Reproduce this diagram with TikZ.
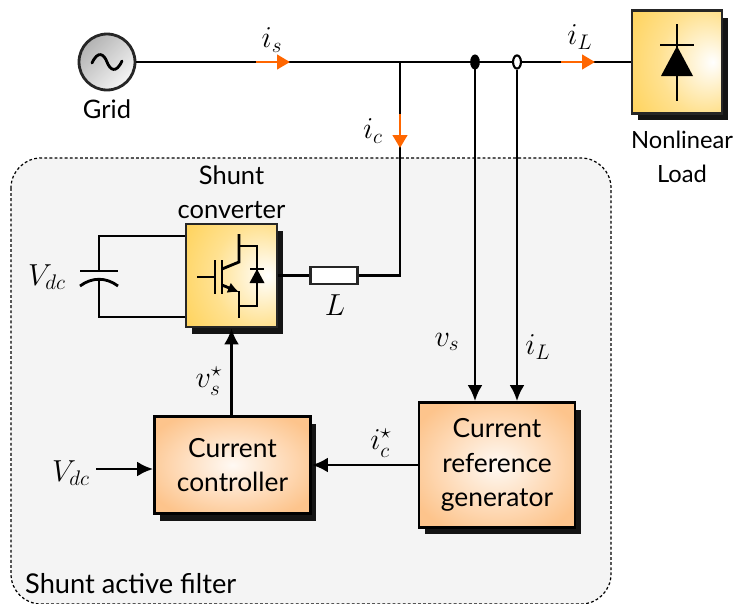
\documentclass[tikz,border=0pt]{standalone}
\usepackage{fontspec}
\setmainfont{Lato}
\usepackage{amsmath}
\usetikzlibrary{shapes,arrows.meta,positioning,calc,shadows}
\DeclareMathSizes{18.5}{18.5}{12.5}{10}
\definecolor{boxorange}{RGB}{253,196,140}
\definecolor{boxyellow}{RGB}{255,205,70}
\definecolor{currentorange}{RGB}{255,102,0}
\definecolor{filtergray}{RGB}{244,244,244}
\pgfdeclareradialshading{boxspot}{\pgfpoint{20bp}{0bp}}{color(0bp)=(white); color(25bp)=(boxyellow!60); color(52bp)=(boxyellow); color(100bp)=(boxyellow)}
\pgfdeclareradialshading{boxglow}{\pgfpoint{0bp}{0bp}}{color(0bp)=(white!90!boxorange); color(30bp)=(boxorange); color(100bp)=(boxorange)}
\tikzset{
    wire/.style={line width=1.6pt},
    sigarrow/.style={wire, -{Latex[length=3.2mm,width=3mm]}},
    currarrow/.style={line width=1.6pt, currentorange, -{Triangle[length=2.6mm,width=2.9mm]}},
    darkshadow/.style={drop shadow={shadow xshift=0.115cm, shadow yshift=-0.14cm, fill=black!92, opacity=1}},
    ctrlbox/.style={rectangle, draw, line width=1.6pt, darkshadow, shading=boxglow, align=center, font=\fontsize{15}{19.5}\selectfont},
    powerbox/.style={rectangle, draw=black!85, line width=1.6pt, darkshadow, shading=boxspot, align=center},
    txt/.style={align=center, font=\fontsize{14.5}{19.5}\selectfont},
    sym/.style={font=\fontsize{18.5}{22}\selectfont}
}
\begin{document}
\begin{tikzpicture}[x=0.02cm, y=-0.02cm]
\useasboundingbox (0,0) rectangle (737,603);
\draw[dash pattern=on 1.6pt off 1.3pt, line width=0.7pt, fill=filtergray, rounded corners=0.6cm] (11,158) rectangle (611,604);

% grid and load
\node[circle, draw=black!85, line width=1.6pt, minimum size=1.12cm, inner sep=0pt, left color=black!30, right color=black!4, shading angle=45] (grid) at (107,62) {};
\draw[line width=1.6pt, line cap=round] (92,63) .. controls (98,50) and (104,54) .. (107,62) .. controls (110,70) and (116,74) .. (122,61);
\node[txt, below=1pt of grid] (gridtxt) {Grid};
\node[powerbox, minimum width=1.8cm, minimum height=2.06cm] (load) at (677,62) {};
\node[txt, font=\fontsize{13.5}{19.5}\selectfont] (loadtxt) at (682,157) {Nonlinear\\Load};
\draw[wire] (677,24) -- (677,101);
\draw[wire] (660,45) -- (694,45);
\fill (677,46) -- (693,76) -- (661,76) -- cycle;

% converter
\node[powerbox, minimum width=1.82cm, minimum height=2.06cm] (conv) at (231.5,275.5) {};
\node[txt, above=-1.5pt of conv] (convtxt) {Shunt\\converter};
\draw[wire] (197,277) -- (215,277);
\draw[wire] (215,260) -- (215,294);
\draw[wire] (222,260) -- (222,294);
\draw[wire] (239,234) -- (239,262) -- (222,269);
\draw[wire, -{Latex[length=2.2mm,width=2.2mm]}] (222,285) -- (239,292);
\draw[wire] (239,291) -- (239,318);
\draw[wire] (239,246) -- (257,246) -- (257,306) -- (239,306);
\draw[wire] (250,269) -- (264,269);
\fill (257,269) -- (264.5,283) -- (249.5,283) -- cycle;

% inductor and capacitor
\node[rectangle, draw=black!85, line width=1.6pt, fill=white, minimum width=0.95cm, minimum height=0.34cm, inner sep=0pt] (ind) at (334,275.5) {};
\node[sym] (indtxt) at (335,305) {$L$};
\coordinate (captop) at (99,271);
\coordinate (capbot) at (99,279);
\draw[wire] (conv.west |- 0,236) -- (99,236) -- (captop);
\draw[wire] (conv.west |- 0,317) -- (99,317) -- (capbot);
\draw[wire] (80,271) -- (118,271);
\draw[wire] (80,286) .. controls (92,277) and (106,277) .. (118,286);
\node[sym] (vdctop) at (47,277) {$V_{dc}$};

% control blocks
\node[ctrlbox, minimum width=3.12cm, minimum height=1.94cm] (cc) at (232.5,465) {Current\\controller};
\node[ctrlbox, minimum width=3.12cm, minimum height=2.5cm] (crg) at (497,465) {Current\\reference\\generator};
\node[sym] (vdcin) at (71,473) {$V_{dc}$};

% main line
\coordinate (jc) at (400,62);
\coordinate (jv) at (475,62);
\coordinate (ji) at (517,62);
\coordinate (ca) at (256,62);
\coordinate (cb) at (290,62);
\coordinate (cc1) at (561,62);
\coordinate (cc2) at (595,62);
\coordinate (cc3) at (400,114);
\coordinate (cc4) at (400,148);
\draw[wire] (grid) -- (load);
\draw[wire] (jc) |- (ind);
\draw[wire] (conv.east |- ind) -- (ind);
\draw[currarrow] (ca) -- (cb);
\draw[currarrow] (cc1) -- (cc2);
\draw[currarrow] (cc3) -- (cc4);
\node[ellipse, fill=black, draw, line width=1pt, minimum width=4.5pt, minimum height=7.5pt, inner sep=0pt] (dotv) at (jv) {};
\node[ellipse, fill=white, draw, line width=1.2pt, minimum width=4.5pt, minimum height=7.5pt, inner sep=0pt] (doti) at (ji) {};
\draw[sigarrow] (dotv) -- (dotv |- crg.north);
\draw[sigarrow] (doti) -- (doti |- crg.north);
\draw[sigarrow] (crg) -- (cc);
\draw[sigarrow] (cc.north -| conv) -- (conv.south);
\draw[sigarrow] (vdcin.east |- 0,469) -- (cc.west |- 0,469);

% labels
\node[sym] (istxt) at (272,40) {$i_s$};
\node[sym] (iltxt) at (580,37) {$i_L$};
\node[sym] (ictxt) at (373,131) {$i_c$};
\node[sym] (vstxt) at (447,342) {$v_s$};
\node[sym] (iltxtb) at (538,347) {$i_L$};
\node[sym] (vsref) at (209,381) {$v_s^\star$};
\node[sym] (icref) at (381,443) {$i_c^\star$};
\node[txt, anchor=west, font=\fontsize{15.5}{19.5}\selectfont] (saftxt) at (19,584) {Shunt active filter};
\end{tikzpicture}
\end{document}
